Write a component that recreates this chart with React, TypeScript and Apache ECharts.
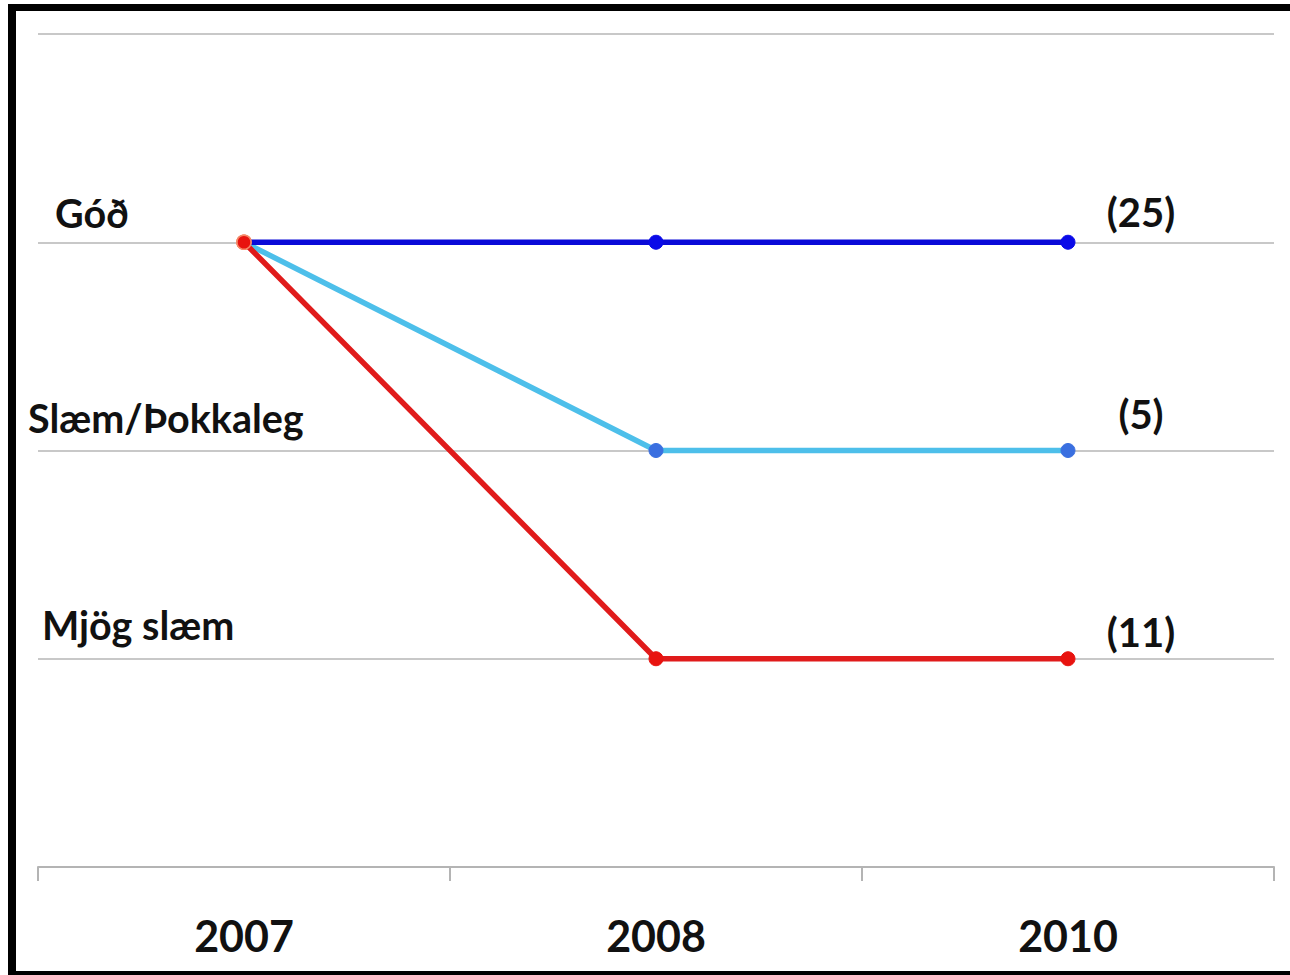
import React, { useEffect, useRef } from "react";
import * as echarts from "echarts";

const years = ["2007", "2008", "2010"];
const levelTicks = [0, 1, 2, 3, 4];
const levelNames = ["Góð", "Slæm/Þokkaleg", "Mjög slæm"];
const levelValues = [3, 2, 1];
const counts = ["(25)", "(5)", "(11)"];

const godValues = [3, 3, 3];
const slaemValues = [3, 2, 2];
const mjogValues = [3, 1, 1];

const FONT = "Lato, 'Open Sans', sans-serif";

export default function App() {
  const ref = useRef<HTMLDivElement | null>(null);
  useEffect(() => {
    document.body.style.margin = "0";
    const chart = echarts.init(ref.current!, null, { renderer: "svg" });
    const lineSeries = (name: string, data: number[], lineColor: string, dotColor: string, z: number) => ({
      name,
      type: "line",
      data: data.map((v, i) => ({
        value: v,
        itemStyle: i === 0 ? { color: "#e8130f", borderColor: "#f58a6a", borderWidth: 1.5 } : undefined,
      })),
      symbol: "circle",
      symbolSize: 14,
      z,
      lineStyle: { color: lineColor, width: 5.5 },
      itemStyle: { color: dotColor, borderColor: dotColor, borderWidth: 1 },
      emphasis: { disabled: true },
    });
    chart.setOption({
      animation: false,
      backgroundColor: "#ffffff",
      grid: { left: 38, right: 16, top: 34, bottom: 108, containLabel: false },
      xAxis: {
        type: "category",
        data: years,
        boundaryGap: true,
        axisLine: { show: true, lineStyle: { color: "#b4b4b4", width: 2 } },
        axisTick: { show: true, length: 14, lineStyle: { color: "#b4b4b4", width: 2 } },
        axisLabel: { fontFamily: FONT, fontWeight: "bold", fontSize: 43, color: "#111", margin: 47 },
        splitLine: { show: false },
      },
      yAxis: {
        type: "value",
        min: levelTicks[0],
        max: levelTicks[levelTicks.length - 1],
        interval: 1,
        axisLine: { show: false },
        axisTick: { show: false },
        axisLabel: { show: false },
        splitLine: { show: true, lineStyle: { color: "#c8c8c8", width: 2 } },
      },
      series: [
        lineSeries("Slæm/Þokkaleg", slaemValues, "#4dbfea", "#3a6fe0", 2),
        lineSeries("Góð", godValues, "#0a0ad8", "#0a0ae8", 3),
        lineSeries("Mjög slæm", mjogValues, "#e01b1b", "#e8130f", 4),
      ],
      graphic: [],
    });

    const nameX = [55, 28, 42];
    const nameDy = [-30, -33, -34];
    const countDy = [-30, -37, -27];
    const countCx = 1141;
    const graphics: any[] = [];
    levelNames.forEach((name, i) => {
      const py = chart.convertToPixel({ yAxisIndex: 0 }, levelValues[i]) as number;
      graphics.push({
        type: "text",
        x: nameX[i],
        y: py + nameDy[i],
        style: {
          text: name,
          fontFamily: FONT,
          fontWeight: "bold",
          fontSize: 39.5,
          fill: "#111",
          verticalAlign: "middle",
          textAlign: "left",
        },
      });
      graphics.push({
        type: "text",
        x: countCx,
        y: py + countDy[i],
        style: {
          text: counts[i],
          fontFamily: FONT,
          fontWeight: "bold",
          fontSize: 40,
          fill: "#111",
          verticalAlign: "middle",
          textAlign: "center",
        },
      });
    });
    // frame
    graphics.push({ type: "rect", shape: { x: 8, y: 4, width: 8, height: 975 }, style: { fill: "#000" }, z: 100 });
    graphics.push({ type: "rect", shape: { x: 8, y: 4, width: 1290, height: 7 }, style: { fill: "#000" }, z: 100 });
    graphics.push({ type: "rect", shape: { x: 8, y: 971, width: 1290, height: 6 }, style: { fill: "#000" }, z: 100 });
    chart.setOption({ graphic: graphics });

    return () => chart.dispose();
  }, []);
  return (
    <div
      ref={ref}
      style={{ position: "fixed", left: 0, top: 0, width: 1290, height: 975 }}
    />
  );
}
